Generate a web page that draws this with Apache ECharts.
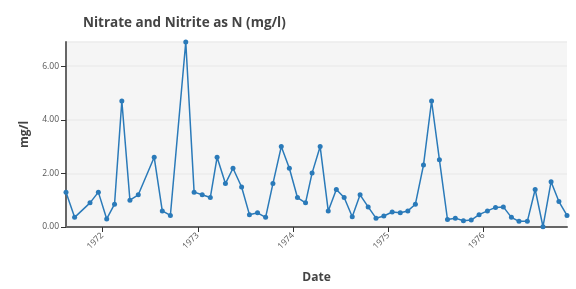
<!DOCTYPE html>
<html>
<head>
<meta charset="utf-8">
<script src="https://cdn.jsdelivr.net/npm/echarts@6/dist/echarts.min.js"></script>
<style>
  html, body { margin: 0; padding: 0; background: #fff; }
  #chart { width: 576px; height: 289px; }
</style>
</head>
<body>
<div id="chart"></div>
<script>
// sample dates (monthly, mid-month)
var dates = [
  "1971-08-15", "1971-09-17", "1971-11-15", "1971-12-17",
  "1972-01-18", "1972-02-17", "1972-03-16", "1972-04-16", "1972-05-18",
  "1972-07-18", "1972-08-18", "1972-09-18", "1972-11-16", "1972-12-18",
  "1973-01-18", "1973-02-18", "1973-03-16", "1973-04-17", "1973-05-16", "1973-06-18",
  "1973-07-18", "1973-08-18", "1973-09-18", "1973-10-16", "1973-11-17", "1973-12-18",
  "1974-01-18", "1974-02-18", "1974-03-15", "1974-04-15", "1974-05-16", "1974-06-16",
  "1974-07-16", "1974-08-16", "1974-09-15", "1974-10-16", "1974-11-15", "1974-12-15",
  "1975-01-16", "1975-02-16", "1975-03-17", "1975-04-15", "1975-05-16", "1975-06-16",
  "1975-07-16", "1975-08-16", "1975-09-15", "1975-10-16", "1975-11-15", "1975-12-15",
  "1976-01-16", "1976-02-16", "1976-03-17", "1976-04-17", "1976-05-16", "1976-06-17",
  "1976-07-17", "1976-08-16", "1976-09-16", "1976-10-16", "1976-11-16"
];
// mg/l
var values = [
  1.30, 0.36, 0.90, 1.30,
  0.30, 0.85, 4.70, 1.00, 1.20,
  2.60, 0.60, 0.43, 6.90, 1.30,
  1.20, 1.10, 2.60, 1.62, 2.19, 1.49,
  0.46, 0.53, 0.36, 1.62, 3.00, 2.19,
  1.10, 0.90, 2.01, 3.00, 0.60, 1.40,
  1.10, 0.38, 1.20, 0.75, 0.33, 0.41,
  0.56, 0.53, 0.60, 0.85, 2.31, 4.70,
  2.51, 0.28, 0.33, 0.23, 0.26, 0.46,
  0.60, 0.73, 0.75, 0.36, 0.21, 0.21,
  1.40, 0.01, 1.69, 0.95, 0.43
];
var yTicks = [0, 2, 4, 6];

var chart = echarts.init(document.getElementById("chart"));
var seriesData = dates.map(function (d, i) { return [d, values[i]]; });
var font = "'Open Sans', sans-serif";

var option = {
  animation: false,
  title: {
    text: "Nitrate and Nitrite as N (mg/l)",
    left: 78,
    top: 11,
    textStyle: { fontFamily: font, fontSize: 13.5, fontWeight: "bold", color: "#444" }
  },
  grid: {
    left: 66, right: 9, top: 42, bottom: 60,
    show: true, backgroundColor: "#f5f5f5", borderWidth: 0
  },
  xAxis: {
    type: "time",
    min: "dataMin",
    max: "dataMax",
    minInterval: 365 * 86400000,
    maxInterval: 366 * 86400000,
    name: "Date",
    nameLocation: "middle",
    nameGap: 45,
    nameTextStyle: { fontFamily: font, fontSize: 12, fontWeight: "bold", color: "#444" },
    axisLine: { lineStyle: { color: "#666", width: 2 } },
    axisTick: { show: true, length: 5, lineStyle: { color: "#333", width: 1 } },
    splitLine: { show: false },
    axisLabel: {
      rotate: 45,
      fontFamily: font,
      fontSize: 8.5,
      color: "#555",
      margin: 7,
      showMinLabel: false,
      showMaxLabel: false,
      formatter: "{yyyy}"
    }
  },
  yAxis: {
    type: "value",
    min: 0,
    max: "dataMax",
    interval: 2,
    name: "mg/l",
    nameLocation: "middle",
    nameGap: 35,
    nameTextStyle: { fontFamily: font, fontSize: 12, fontWeight: "bold", color: "#444" },
    axisLine: { show: true, lineStyle: { color: "#666", width: 2 } },
    axisTick: { show: true, length: 5, lineStyle: { color: "#333", width: 1 } },
    splitLine: { show: true, lineStyle: { color: "#ebebeb", width: 1.5 } },
    axisLabel: {
      fontFamily: font,
      fontSize: 8.5,
      color: "#555",
      margin: 7,
      showMaxLabel: false,
      formatter: function (v) {
        return yTicks.indexOf(v) >= 0 ? v.toFixed(2) : "";
      }
    }
  },
  series: [{
    type: "line",
    data: seriesData,
    symbol: "circle",
    symbolSize: 5,
    lineStyle: { color: "#2a7ab9", width: 1.5 },
    itemStyle: { color: "#2a7ab9" }
  }]
};
chart.setOption(option);
</script>
</body>
</html>
